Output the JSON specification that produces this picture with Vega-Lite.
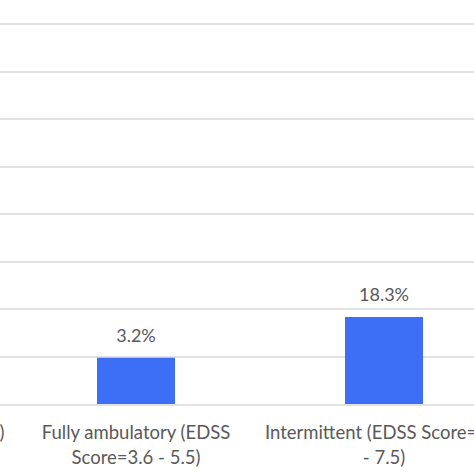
{
  "$schema": "https://vega.github.io/schema/vega-lite/v6.json",
  "width": 474,
  "height": 380.5,
  "autosize": {"type": "none"},
  "padding": {"left": 0, "top": 23.5, "right": 0, "bottom": 70},
  "background": "white",
  "config": {"view": {"stroke": null}, "font": "Lato"},
  "data": {
    "values": [
      {"category": "Fully ambulatory (EDSS|Score=3.6 - 5.5)", "value": 9.7, "label": "3.2%"},
      {"category": "Intermittent (EDSS Score=6.0|- 7.5)", "value": 18.3, "label": "18.3%"}
    ]
  },
  "encoding": {
    "x": {
      "field": "category",
      "type": "nominal",
      "sort": null,
      "scale": {
        "domain": [
          "Normal (EDSS Score=0 - 3.5)",
          "Fully ambulatory (EDSS|Score=3.6 - 5.5)",
          "Intermittent (EDSS Score=6.0|- 7.5)",
          "Restricted (EDSS|Score=8.0 - 9.5)"
        ],
        "range": [-236, 756],
        "paddingInner": 0,
        "paddingOuter": 0
      },
      "axis": {
        "title": null,
        "domain": false,
        "ticks": false,
        "grid": false,
        "labelAngle": 0,
        "labelExpr": "split(datum.label, '|')",
        "labelFontSize": 18.5,
        "labelColor": "#595959",
        "labelPadding": 19,
        "labelLineHeight": 25,
        "labelBaseline": "top",
        "labelLimit": 0,
        "labelOverlap": false,
        "labelBound": false,
        "labelFlush": false
      }
    },
    "y": {
      "field": "value",
      "type": "quantitative",
      "scale": {"domain": [0, 80]},
      "axis": {
        "title": null,
        "domain": false,
        "ticks": false,
        "labels": false,
        "values": [0, 10, 20, 30, 40, 50, 60, 70, 80],
        "grid": true,
        "gridColor": "#d9d9d9",
        "gridWidth": 1.5
      }
    }
  },
  "layer": [
    {"mark": {"type": "bar", "width": 78, "color": "#3d6ef6"}},
    {
      "mark": {"type": "text", "baseline": "middle", "dy": -21, "fontSize": 18, "color": "#595959"},
      "encoding": {"text": {"field": "label"}}
    }
  ]
}
